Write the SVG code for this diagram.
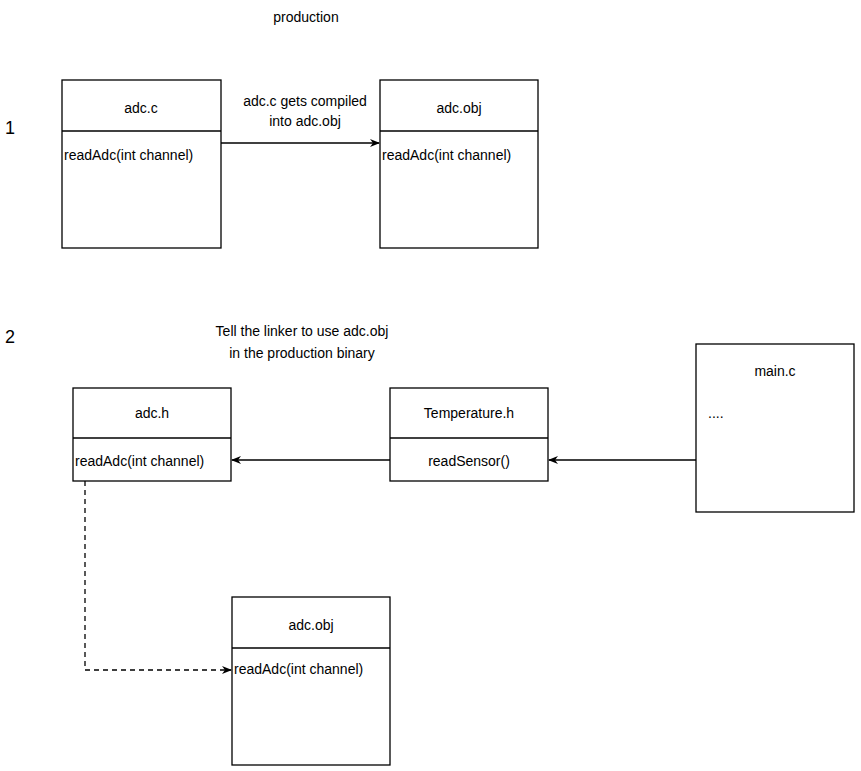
<svg xmlns="http://www.w3.org/2000/svg" width="861" height="771" viewBox="0 0 861 771">
<style>
text{font-family:"Liberation Sans",Arial,sans-serif;font-size:14px;fill:#000}
.b{fill:#fff;stroke:#000;stroke-width:1.3}
.c{text-anchor:middle}
.e{stroke:#000;stroke-width:1.3;fill:none}
</style>
<defs><marker id="a" markerWidth="10" markerHeight="10" refX="9" refY="5" orient="auto" markerUnits="userSpaceOnUse"><path d="M0,1 L10,5 L0,9 L3,5 Z" fill="#000"/></marker></defs>
<rect width="861" height="771" fill="#fff"/>
<text x="306" y="22" class="c">production</text>
<text x="5" y="134" style="font-size:18px">1</text>
<text x="5" y="343" style="font-size:18px">2</text>
<text x="305" y="106" class="c">adc.c gets compiled</text>
<text x="305" y="126" class="c">into adc.obj</text>
<text x="302" y="336" class="c">Tell the linker to use adc.obj</text>
<text x="302" y="358" class="c">in the production binary</text>
<g id="adcc"><rect class="b" x="62" y="80" width="159" height="168"/><line class="e" x1="62" y1="131" x2="221" y2="131"/><text x="141" y="113" class="c">adc.c</text><text x="64" y="160">readAdc(int channel)</text></g>
<g id="adcobj1"><rect class="b" x="380" y="80" width="158" height="168"/><line class="e" x1="380" y1="131" x2="538" y2="131"/><text x="459" y="113" class="c">adc.obj</text><text x="382" y="160">readAdc(int channel)</text></g>
<g id="adch"><rect class="b" x="73" y="388" width="158" height="93"/><line class="e" x1="73" y1="438" x2="231" y2="438"/><text x="152" y="418" class="c">adc.h</text><text x="75" y="466">readAdc(int channel)</text></g>
<g id="temph"><rect class="b" x="390" y="388" width="158" height="93"/><line class="e" x1="390" y1="438" x2="548" y2="438"/><text x="469" y="418" class="c">Temperature.h</text><text x="469" y="466" class="c">readSensor()</text></g>
<g id="mainc"><rect class="b" x="696" y="344" width="158" height="168"/><text x="775" y="376" class="c">main.c</text><text x="708" y="418">....</text></g>
<g id="adcobj2"><rect class="b" x="232" y="597" width="158" height="168"/><line class="e" x1="232" y1="648" x2="390" y2="648"/><text x="311" y="630" class="c">adc.obj</text><text x="234" y="674">readAdc(int channel)</text></g>
<g id="connectors">
<line class="e" x1="221" y1="143" x2="379" y2="143" marker-end="url(#a)"/>
<line class="e" x1="696" y1="460" x2="549" y2="460" marker-end="url(#a)"/>
<line class="e" x1="390" y1="460" x2="232" y2="460" marker-end="url(#a)"/>
<path class="e" d="M85,481 V670 H231" stroke-dasharray="5,4" marker-end="url(#a)"/>
</g>
</svg>
